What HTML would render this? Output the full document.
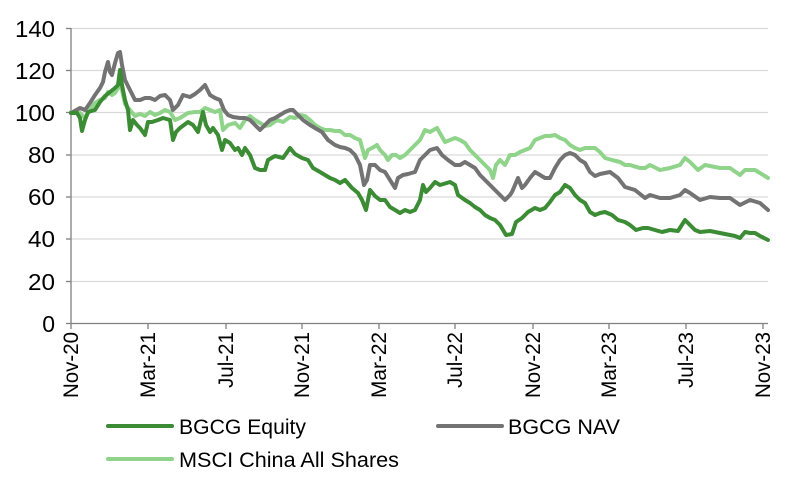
<!DOCTYPE html>
<html><head><meta charset="utf-8"><style>
body{margin:0;background:#fff;}
svg text{font-family:"Liberation Sans",Arial,sans-serif;fill:#000;}
</style></head><body>
<svg width="800" height="483" viewBox="0 0 800 483" xmlns="http://www.w3.org/2000/svg">
<g stroke="#d9d9d9" stroke-width="1.3">
<line x1="71" x2="768" y1="28.5" y2="28.5"/><line x1="71" x2="768" y1="70.5" y2="70.5"/>
<line x1="71" x2="768" y1="112.5" y2="112.5"/><line x1="71" x2="768" y1="155" y2="155"/>
<line x1="71" x2="768" y1="197" y2="197"/><line x1="71" x2="768" y1="239" y2="239"/>
<line x1="71" x2="768" y1="281.5" y2="281.5"/>
</g>
<g stroke="#808080" stroke-width="1.3">
<line x1="71" x2="71" y1="28" y2="324"/><line x1="71" x2="768" y1="323.5" y2="323.5"/>
<line x1="66" x2="71" y1="28.5" y2="28.5"/><line x1="66" x2="71" y1="70.5" y2="70.5"/><line x1="66" x2="71" y1="112.5" y2="112.5"/><line x1="66" x2="71" y1="155" y2="155"/><line x1="66" x2="71" y1="197" y2="197"/><line x1="66" x2="71" y1="239" y2="239"/><line x1="66" x2="71" y1="281.5" y2="281.5"/><line x1="66" x2="71" y1="323.5" y2="323.5"/>
<line x1="71" x2="71" y1="323" y2="329"/><line x1="148" x2="148" y1="323" y2="329"/><line x1="226" x2="226" y1="323" y2="329"/><line x1="302" x2="302" y1="323" y2="329"/><line x1="379" x2="379" y1="323" y2="329"/><line x1="455" x2="455" y1="323" y2="329"/><line x1="533" x2="533" y1="323" y2="329"/><line x1="609" x2="609" y1="323" y2="329"/><line x1="686" x2="686" y1="323" y2="329"/><line x1="763" x2="763" y1="323" y2="329"/>
</g>
<g font-size="23" text-anchor="end">
<text x="55" y="37" textLength="40" lengthAdjust="spacingAndGlyphs">140</text>
<text x="55" y="79" textLength="40" lengthAdjust="spacingAndGlyphs">120</text>
<text x="55" y="121" textLength="40" lengthAdjust="spacingAndGlyphs">100</text>
<text x="55" y="163" textLength="27" lengthAdjust="spacingAndGlyphs">80</text>
<text x="55" y="205" textLength="27" lengthAdjust="spacingAndGlyphs">60</text>
<text x="55" y="247" textLength="27" lengthAdjust="spacingAndGlyphs">40</text>
<text x="55" y="290" textLength="27" lengthAdjust="spacingAndGlyphs">20</text>
<text x="55" y="332">0</text>
</g>
<g font-size="21" text-anchor="end">
<text transform="translate(78,332) rotate(-90)" textLength="66" lengthAdjust="spacingAndGlyphs">Nov-20</text>
<text transform="translate(155,332) rotate(-90)" textLength="66" lengthAdjust="spacingAndGlyphs">Mar-21</text>
<text transform="translate(233,332) rotate(-90)" textLength="56" lengthAdjust="spacingAndGlyphs">Jul-21</text>
<text transform="translate(309,332) rotate(-90)" textLength="66" lengthAdjust="spacingAndGlyphs">Nov-21</text>
<text transform="translate(386,332) rotate(-90)" textLength="66" lengthAdjust="spacingAndGlyphs">Mar-22</text>
<text transform="translate(462,332) rotate(-90)" textLength="56" lengthAdjust="spacingAndGlyphs">Jul-22</text>
<text transform="translate(540,332) rotate(-90)" textLength="66" lengthAdjust="spacingAndGlyphs">Nov-22</text>
<text transform="translate(616,332) rotate(-90)" textLength="66" lengthAdjust="spacingAndGlyphs">Mar-23</text>
<text transform="translate(693,332) rotate(-90)" textLength="56" lengthAdjust="spacingAndGlyphs">Jul-23</text>
<text transform="translate(770,332) rotate(-90)" textLength="66" lengthAdjust="spacingAndGlyphs">Nov-23</text>
</g>
<g fill="none" stroke-width="4" stroke-linejoin="round" stroke-linecap="round">
<polyline stroke="#8fd48a" points="71,112 80,113 85,118 90,110 95,103 100,100 105,98 108,92 112,95 115,93 118,88 120,84 122,90 125,104 130,110 135,116 140,114 145,116 150,112 155,115 160,113 165,110 170,112 175,120 180,118 188,113 195,112 200,112 205,108 210,110 215,112 220,110 223,130 228,125 235,123 240,128 245,120 250,116 255,120 260,123 265,126 270,125 277,120 283,122 290,117 295,118 300,115 305,116 310,120 315,125 320,128 325,130 330,130 335,131 340,131 345,135 350,135 355,138 360,140 365,158 368,150 372,148 377,145 380,150 385,155 388,160 392,155 396,155 400,158 405,155 410,150 415,145 420,140 425,130 430,132 437,128 445,142 450,140 455,138 460,140 465,143 470,150 475,155 480,160 485,165 490,170 493,178 496,165 500,160 505,165 510,155 515,155 520,152 525,150 530,148 535,140 540,138 545,136 550,136 555,135 560,138 565,140 570,145 575,148 580,150 585,148 590,148 595,148 600,152 605,158 612,160 620,162 625,165 630,165 640,168 645,168 650,165 660,170 670,168 680,165 685,158 690,162 698,170 705,165 720,168 730,168 740,175 745,170 755,170 760,173 768,178"/>
<polyline stroke="#737373" points="71,113 80,108 85,110 90,103 95,95 100,88 103,82 105,72 108,62 110,72 112,75 115,63 118,53 120,52 122,65 125,80 130,90 135,100 140,100 145,98 150,98 155,100 160,96 165,95 170,100 173,110 178,105 183,95 190,97 195,94 200,90 205,85 210,95 215,98 220,100 224,110 228,115 233,117 240,118 245,118 250,120 255,125 260,130 265,125 270,120 275,118 280,115 285,112 290,110 293,110 298,115 303,120 310,125 315,128 322,132 328,140 335,145 340,147 345,148 350,150 355,155 360,165 364,185 367,180 370,165 375,165 380,170 385,172 390,180 395,188 398,178 403,175 408,174 415,172 420,160 425,155 430,150 437,148 442,155 448,160 455,165 460,165 465,162 470,165 475,168 480,175 485,180 490,185 495,190 500,195 505,200 510,195 512,192 518,178 522,188 525,185 530,178 535,172 540,175 545,178 550,178 555,168 560,160 565,155 570,153 575,155 580,160 585,163 590,172 595,176 600,174 610,172 618,178 625,187 635,190 645,198 650,195 660,198 670,198 680,195 685,190 690,193 700,200 710,197 720,198 730,198 740,205 750,200 760,203 768,210"/>
<polyline stroke="#3b8c34" points="71,113 77,113 80,118 82,131 85,120 88,112 95,110 100,102 105,96 110,92 115,88 118,85 120,70 122,85 125,100 128,110 130,130 133,120 137,125 140,128 145,135 148,122 152,122 158,120 163,118 170,120 173,140 176,132 180,128 188,122 193,125 198,132 203,112 206,125 210,132 213,128 218,135 222,150 225,140 230,143 235,150 238,148 242,155 245,148 250,155 255,168 260,170 265,170 268,160 275,156 283,158 290,148 295,154 302,158 308,160 313,168 320,172 325,175 330,178 335,180 340,183 345,180 352,188 358,193 362,200 366,210 370,190 375,196 380,200 385,200 390,207 395,210 400,213 405,210 410,212 415,210 420,200 423,185 426,192 430,188 435,182 440,185 450,182 455,185 458,195 465,200 470,203 475,207 480,210 485,215 490,218 495,220 500,225 506,235 512,234 516,222 522,218 528,212 535,208 540,210 545,208 550,202 555,195 560,192 565,185 570,188 575,195 580,200 585,203 590,212 595,215 600,213 605,212 612,215 618,220 625,222 630,225 636,230 643,228 648,228 655,230 662,232 670,230 678,231 685,220 690,225 695,230 700,232 710,231 720,233 730,235 735,236 740,238 745,232 750,233 755,233 760,236 768,240"/>
</g>
<g stroke-width="4" stroke-linecap="round">
<line x1="108" x2="172" y1="426" y2="426" stroke="#3b8c34"/>
<line x1="438" x2="502" y1="426" y2="426" stroke="#737373"/>
<line x1="108" x2="172" y1="459" y2="459" stroke="#8fd48a"/>
</g>
<g font-size="21">
<text x="179" y="434" textLength="127" lengthAdjust="spacingAndGlyphs">BGCG Equity</text>
<text x="508" y="434" textLength="112" lengthAdjust="spacingAndGlyphs">BGCG NAV</text>
<text x="179" y="467" textLength="220" lengthAdjust="spacingAndGlyphs">MSCI China All Shares</text>
</g>
</svg>
</body></html>
